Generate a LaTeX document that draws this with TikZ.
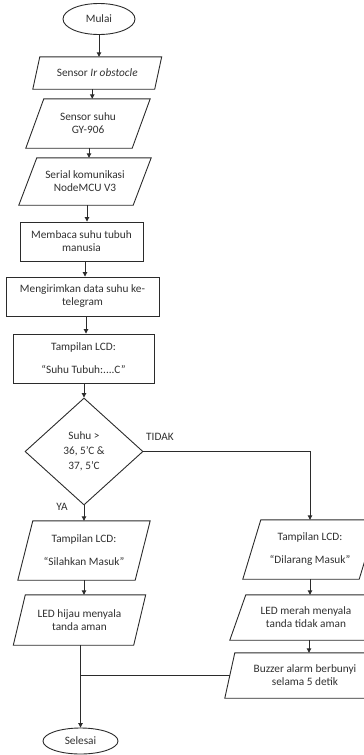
\documentclass[tikz,border=0pt]{standalone}
\usepackage{fontspec}
\setmainfont{Carlito}
\usetikzlibrary{shapes.geometric,arrows.meta,calc}
\definecolor{ln}{HTML}{2B2B2B}
\definecolor{txt}{HTML}{303030}
\begin{document}
\begin{tikzpicture}[x=1pt,y=-1pt,
  every node/.style={font=\fontsize{11.3pt}{13pt}\selectfont, text=txt},
  shapeline/.style={draw=ln, line width=0.9pt, line join=miter},
  box/.style={shapeline, rectangle, inner sep=0pt, align=center},
  term/.style={shapeline, ellipse, inner sep=0pt},
  decide/.style={shapeline, diamond, inner sep=0pt, align=center},
  para/.style={rectangle, inner sep=0pt, align=center},
  flow/.style={draw=ln, line width=0.9pt, -{Triangle[length=4.5pt,width=4.5pt]}},
  link/.style={draw=ln, line width=0.9pt},
  lbl/.style={inner sep=0pt}]
\path[use as bounding box, clip] (0,0) rectangle (364,755);

\node[term, minimum width=72pt, minimum height=31pt] (start) at (99,19) {Mulai};
\node[para, minimum width=121.5pt, minimum height=32pt] (p1) at (97.25,73) {Sensor \textit{Ir obstocle}};
\node[para, minimum width=106pt, minimum height=49pt] (p2) at (88,123.5) {Sensor suhu\\GY-906};
\node[para, minimum width=114pt, minimum height=47pt] (p3) at (85,181.5) {Serial komunikasi\\NodeMCU V3};
\node[box, minimum width=123pt, minimum height=39pt] (baca) at (81.5,241.5) {Membaca suhu tubuh\\manusia};
\node[box, minimum width=153pt, minimum height=39pt] (kirim) at (82.5,296.5) {Mengirimkan data suhu ke-\\telegram};
\node[box, minimum width=141pt, minimum height=49pt] (lcd) at (83.5,358.5) {Tampilan LCD:\\[10pt]“Suhu Tubuh:....C”};
\node[decide, minimum width=118pt, minimum height=107pt] (dec) at (84,451.5) {Suhu >\\[2pt]36, 5’C \&\\[2pt]37, 5’C};
\node[para, minimum width=117pt, minimum height=59pt] (sil) at (84,550.5) {Tampilan LCD:\\[10pt]“Silahkan Masuk”};
\node[para, minimum width=120pt, minimum height=50pt] (hij) at (79.5,620) {LED hijau menyala\\tanda aman};
\node[para, minimum width=116pt, minimum height=59pt] (dil) at (310,549.5) {Tampilan LCD:\\[10pt]“Dilarang Masuk”};
\node[para, minimum width=136pt, minimum height=45pt] (mer) at (306,617.5) {LED merah menyala\\tanda tidak aman};
\node[para, minimum width=150pt, minimum height=45pt] (buz) at (305,675.5) {Buzzer alarm berbunyi\\selama 5 detik};
\node[term, minimum width=75pt, minimum height=26pt] (sel) at (80.5,741) {Selesai};

\foreach \n/\s in {p1/3.5, p2/9, p3/9, sil/7.5, hij/6, dil/9, mer/8, buz/5}
  \draw[shapeline] ([xshift=\s pt]\n.north west) -- ([xshift=\s pt]\n.north east) --
    ([xshift=-\s pt]\n.south east) -- ([xshift=-\s pt]\n.south west) -- cycle;

\node[lbl] (tidak) at (160,437) {TIDAK};
\node[lbl] (ya) at (62,507) {YA};

\draw[flow] (start.south) -- (start.south |- p1.north);
\draw[flow] ([xshift=-5pt]p1.south) -- ([xshift=-5pt]p1.south |- p2.north);
\draw[flow] ([xshift=1pt]p2.south) -- ([xshift=1pt]p2.south |- p3.north);
\draw[flow] ([xshift=2pt]p3.south) -- ([xshift=2pt]p3.south |- baca.north);
\draw[flow] ([xshift=3.5pt]baca.south) -- ([xshift=3.5pt]baca.south |- kirim.north);
\draw[flow] ([xshift=3.5pt]kirim.south) -- ([xshift=3.5pt]kirim.south |- lcd.north);
\draw[flow] (lcd.south -| dec.north) -- (dec.north);
\draw[flow] (dec.south) -- (sil.north);
\draw[flow] (dec.east) -| (dil.north);
\draw[flow] (sil.south) -- (sil.south |- hij.north);
\draw[flow] (dil.south) -- (dil.south |- mer.north);
\draw[flow] ([xshift=3pt]mer.south) -- ([xshift=3pt]mer.south |- buz.north);
\draw[flow] (hij.south -| sel.north) -- (sel.north);
\draw[link] (buz.west) -- (buz.west -| sel.north);
\end{tikzpicture}
\end{document}
